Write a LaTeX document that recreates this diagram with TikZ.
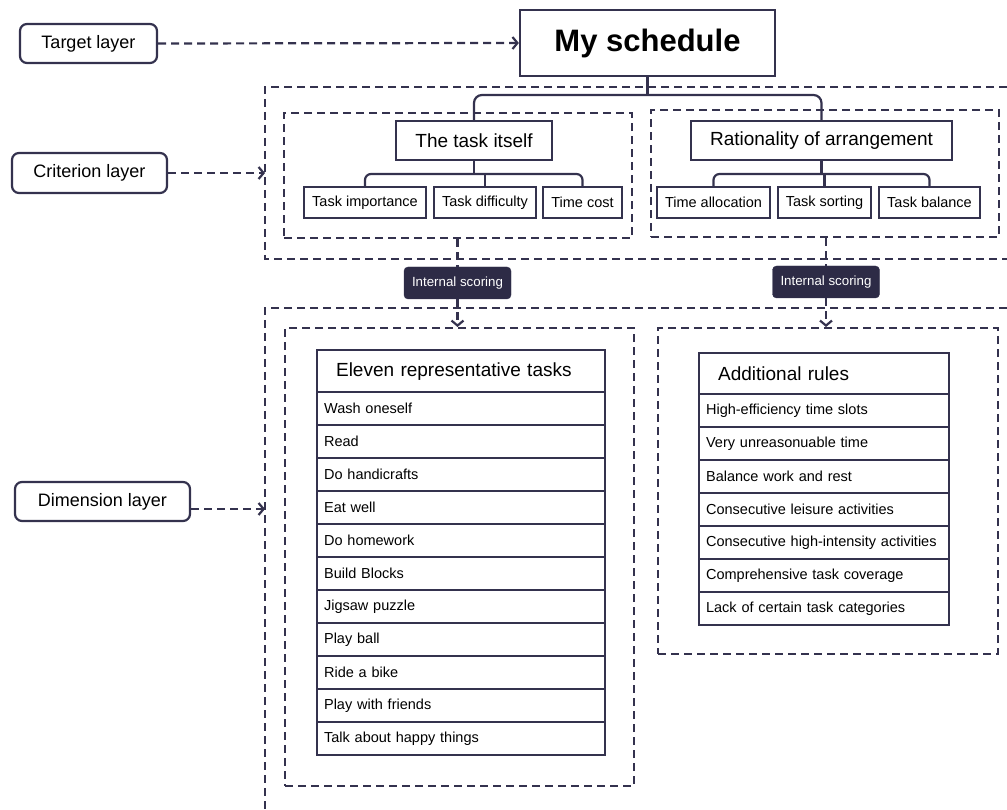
\documentclass[tikz,border=0pt]{standalone}
\usepackage{fontspec}
\setmainfont{Liberation Sans}
\usetikzlibrary{arrows.meta}
\definecolor{navy}{RGB}{52,50,78}
\definecolor{navyfill}{RGB}{45,43,70}
\def\fs#1{\fontsize{#1}{#1}\selectfont}
\tikzset{
  box/.style={draw=navy, line width=2.2pt, fill=white, inner sep=0pt},
  layerbox/.style={box, rounded corners=7pt, font=\fs{18}},
  subbox/.style={box, minimum height=31pt, font=\fs{14.5}},
  headbox/.style={box, anchor=north west, align=left, inner xsep=19pt, font=\fs{19}},
  rowbox/.style={box, anchor=north west, align=left, inner xsep=7pt, font=\fs{14.5}},
  scorebox/.style={draw=navy, fill=navyfill, rounded corners=4pt, text=white,
    minimum width=107pt, minimum height=32pt, font=\fs{13.3}},
  dashbox/.style={draw=navy, line width=2.2pt, dash pattern=on 8pt off 5pt},
  conn/.style={draw=navy, line width=2.2pt},
  dasharrow/.style={dashbox, -{Straight Barb[length=5pt,width=12pt]}}
}

\begin{document}
\begin{tikzpicture}[x=1pt,y=-1pt]
  \useasboundingbox (0,0) rectangle (1007,810);
  %%%%% LAYER LABELS %%%%%
  \node[layerbox, minimum width=137pt, minimum height=39pt] (target) at (88.5, 43.5) {Target layer};
  \node[layerbox, minimum width=155pt, minimum height=40pt] (crit) at (89.5, 173) {Criterion layer};
  \node[layerbox, minimum width=175pt, minimum height=39pt] (dim) at (102.5, 501.5) {Dimension layer};

  %%%%% OUTER DASHED FRAMES %%%%%
  \draw[dashbox] (1020, 87) -| (265, 259) -- (1020, 259);
  \draw[dashbox] (1020, 308) -| (265, 820);
  \coordinate (critin) at (265, 173);
  \coordinate (dimin) at (265, 509);

  %%%%% INNER DASHED FRAMES %%%%%
  \node[dashbox, anchor=north west, minimum width=348pt, minimum height=125pt] (critL) at (283, 112) {};
  \node[dashbox, anchor=north west, minimum width=348pt, minimum height=127pt] (critR) at (650, 109) {};
  \node[dashbox, anchor=north west, minimum width=349pt, minimum height=458pt] (dimL) at (284, 327) {};
  \node[dashbox, anchor=north west, minimum width=340pt, minimum height=326pt] (dimR) at (657, 327) {};

  %%%%% TOP %%%%%
  \node[box, minimum width=255pt, minimum height=66pt, font=\bfseries\fs{31}] (sched) at (647.5, 43) {My schedule};
  \node[box, minimum width=156pt, minimum height=39pt, font=\fs{19}] (task) at (474, 140.5) {The task itself};
  \node[box, minimum width=261pt, minimum height=39pt, font=\fs{19}] (rat) at (821.5, 140.5) {Rationality of arrangement};

  \node[subbox, minimum width=122pt] (imp) at (365, 202.5) {Task importance};
  \node[subbox, minimum width=102pt] (diff) at (485, 202.5) {Task difficulty};
  \node[subbox, minimum width=79pt] (cost) at (582.5, 202.5) {Time cost};
  \node[subbox, minimum width=113pt] (alloc) at (713.5, 202.5) {Time allocation};
  \node[subbox, minimum width=93pt] (sort) at (824.5, 202.5) {Task sorting};
  \node[subbox, minimum width=101pt] (bal) at (929.5, 202.5) {Task balance};

  \coordinate (topbus) at (647.5, 95);
  \coordinate (busL) at (474, 174);
  \coordinate (busR) at (821.5, 174);
  \draw[conn] (sched.south) -- (topbus);
  \draw[conn, rounded corners=8pt] (task.north) |- (topbus) -| (rat.north);
  \draw[conn] (task.south) -- (busL);
  \draw[conn, rounded corners=6pt] (imp.north) |- (busL) -| (cost.north);
  \draw[conn] (diff.north) -- (diff.north |- busL);
  \draw[conn] (rat.south) -- (busR);
  \draw[conn, rounded corners=6pt] (alloc.north) |- (busR) -| (bal.north);
  \draw[conn] (sort.north) -- (sort.north |- busR);

  %%%%% SCORING %%%%%
  \node[scorebox] (scoreL) at (457.5, 283) {Internal scoring};
  \node[scorebox] (scoreR) at (826, 282) {Internal scoring};
  \draw[dashbox] (critL.south -| scoreL) -- (scoreL.north);
  \draw[dashbox] (critR.south -| scoreR) -- (scoreR.north);
  \draw[dasharrow] (scoreL.south) -- (scoreL.south |- dimL.north);
  \draw[dasharrow] (scoreR.south) -- (scoreR.south |- dimR.north);

  %%%%% LAYER ARROWS %%%%%
  \draw[dasharrow] (target.east) -- (sched.west);
  \draw[dasharrow] (crit.east) -- (critin);
  \draw[dasharrow] (dim.east |- dimin) -- (dimin);

  %%%%% TABLES %%%%%
  \node[headbox, text width=250pt, minimum height=42pt] (taskhead) at (316, 349) {Eleven representative tasks};
  \foreach \t [count=\i] in {Wash oneself, Read, Do handicrafts, Eat well, Do homework,
      Build Blocks, Jigsaw puzzle, Play ball, Ride a bike, Play with friends, Talk about happy things}
    \node[rowbox, text width=274pt, minimum height=33pt] (task\i) at (316, {391+(\i-1)*33}) {\t};

  \node[headbox, text width=212pt, minimum height=41pt] (rulehead) at (698, 352) {Additional rules};
  \foreach \t [count=\i] in {High-efficiency time slots, Very unreasonuable time, Balance work and rest,
      Consecutive leisure activities, Consecutive high-intensity activities,
      Comprehensive task coverage, Lack of certain task categories}
    \node[rowbox, text width=236pt, minimum height=33pt] (rule\i) at (698, {393+(\i-1)*33}) {\t};
\end{tikzpicture}
\end{document}
